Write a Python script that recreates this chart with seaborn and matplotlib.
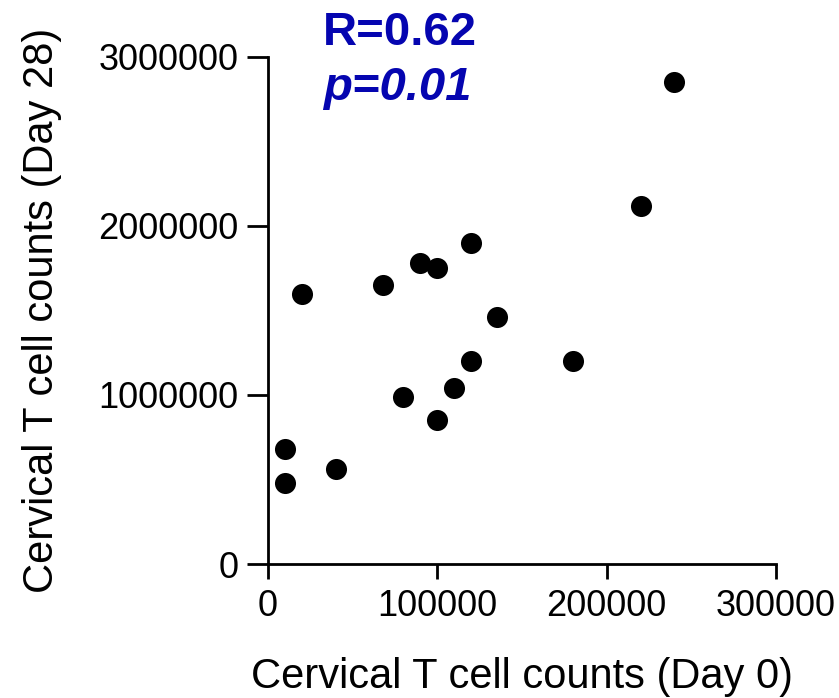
import matplotlib
matplotlib.use("Agg")
import matplotlib.pyplot as plt
import seaborn as sns
import pandas as pd

day0 = [10000, 10000, 20000, 40000, 68000, 80000, 90000, 100000, 100000,
        110000, 120000, 120000, 135000, 180000, 220000, 240000]
day28 = [680000, 480000, 1600000, 560000, 1650000, 990000, 1780000, 1750000, 850000,
         1040000, 1900000, 1200000, 1460000, 1200000, 2120000, 2850000]
x_ticks = [0, 100000, 200000, 300000]
y_ticks = [0, 1000000, 2000000, 3000000]
x_label = "Cervical T cell counts (Day 0)"
y_label = "Cervical T cell counts (Day 28)"
stat_r = "R=0.62"
stat_p = "p=0.01"

sns.set_theme(style="ticks")
plt.rcParams['font.family'] = ['Liberation Sans', 'DejaVu Sans']

df = pd.DataFrame({"day0": day0, "day28": day28})

fig = plt.figure(figsize=(8.39, 6.98), dpi=100)
ax = fig.add_axes([268/839, (698-564)/698, (776-268)/839, (564-57)/698])
sns.scatterplot(data=df, x="day0", y="day28", ax=ax, s=230, color="black",
                edgecolor="black", linewidth=0, clip_on=False, zorder=3)

ax.set_xlim(0, 300000)
ax.set_ylim(0, 3000000)
ax.set_xticks(x_ticks)
ax.set_yticks(y_ticks)
ax.set_xticklabels([str(v) for v in x_ticks])
ax.set_yticklabels([str(v) for v in y_ticks])
for s in ["top", "right"]:
    ax.spines[s].set_visible(False)
for s in ["left", "bottom"]:
    ax.spines[s].set_linewidth(2)
    ax.spines[s].set_color("black")
ax.tick_params(axis="y", length=15, width=2, labelsize=26, pad=6, colors="black")
ax.tick_params(axis="x", length=11, width=2, labelsize=26, pad=7, colors="black")
ax.set_xlabel(x_label, fontsize=30, labelpad=24, color="black")
ax.set_ylabel(y_label, fontsize=30, labelpad=26, color="black")

blue = "#0505B0"
fig.text(400/839, 1 - 33/698, stat_r, ha="center", va="center", fontsize=34,
         fontweight="bold", color=blue)
fig.text(397/839, 1 - 88/698, stat_p, ha="center", va="center", fontsize=34,
         fontweight="bold", fontstyle="italic", color=blue)

fig.savefig("out.png", dpi=100)
